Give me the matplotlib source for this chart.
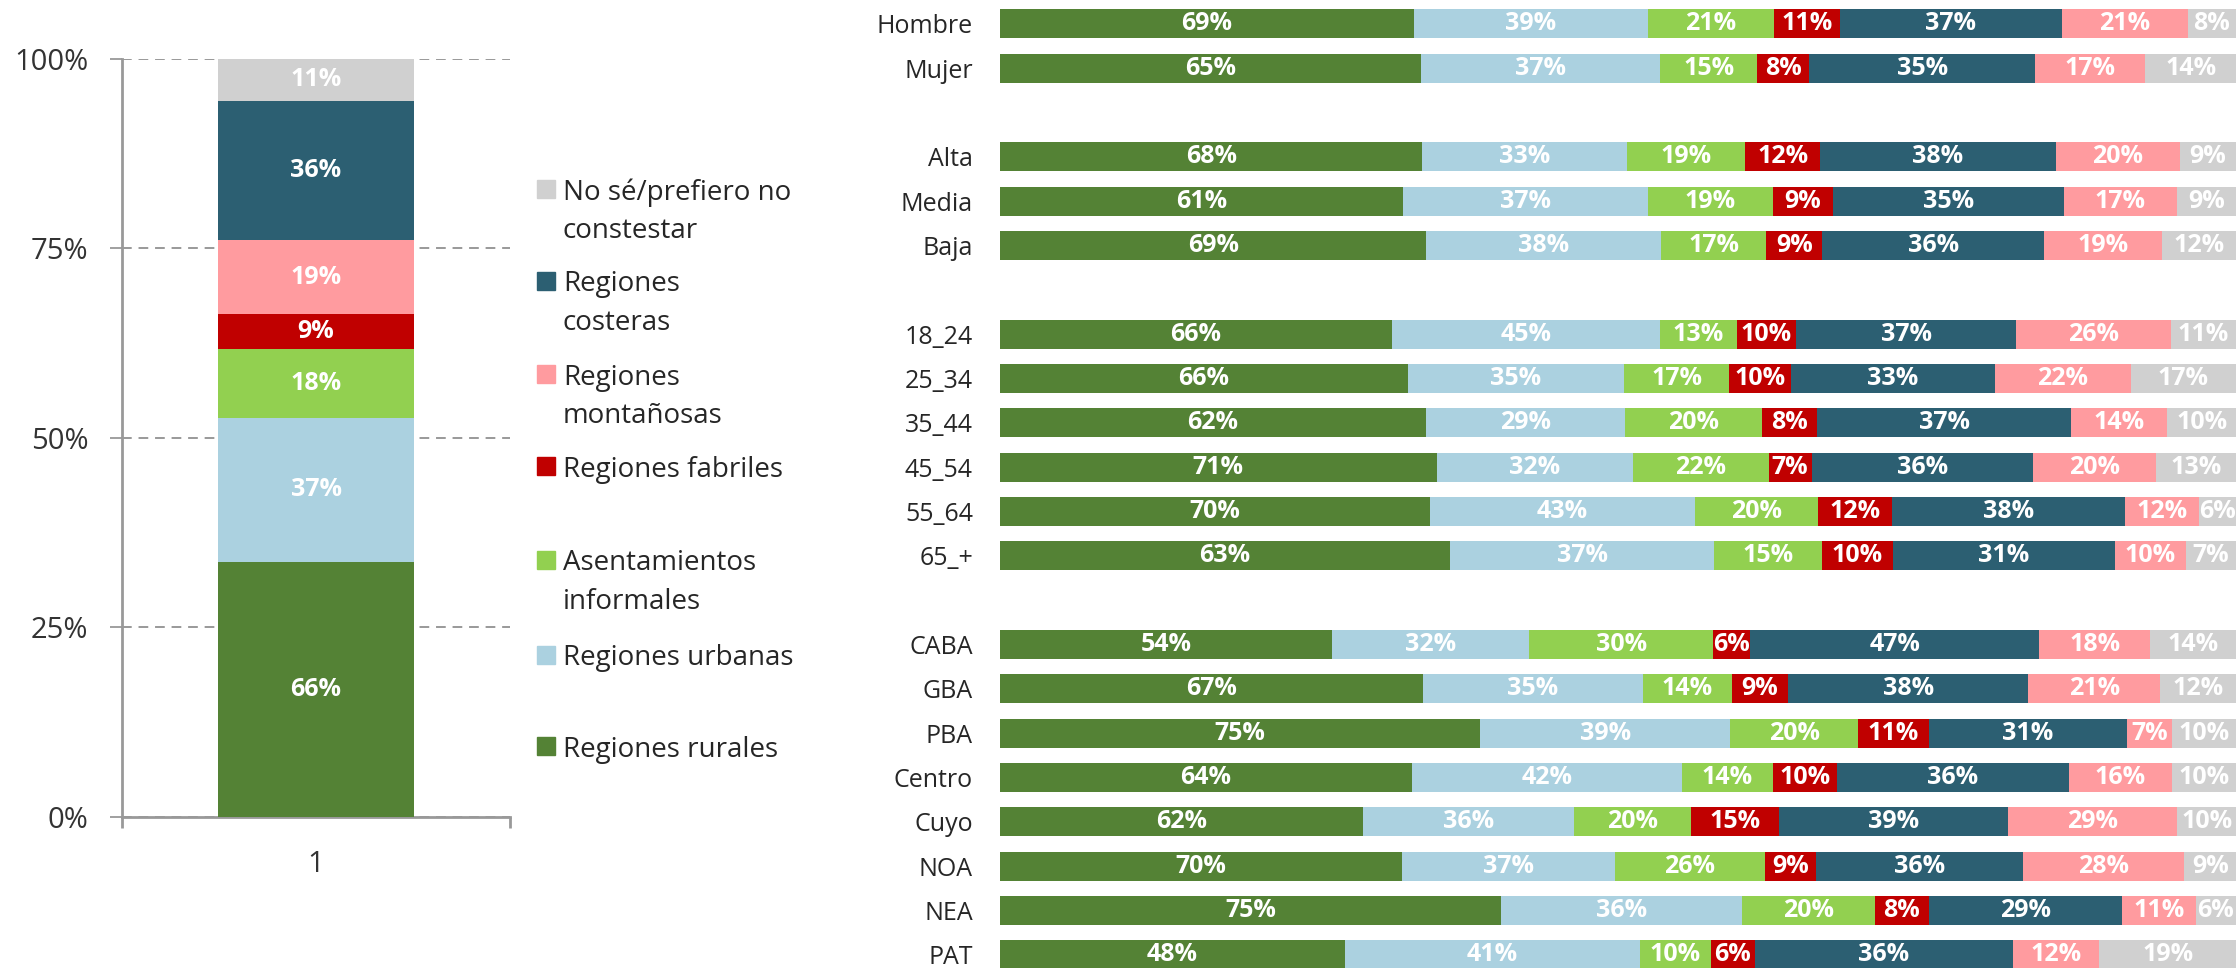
import numpy as np
import matplotlib.pyplot as plt
from matplotlib.patches import Rectangle

plt.rcParams['font.family'] = ['Open Sans', 'DejaVu Sans']

W, H = 2236, 968

# series order as stacked in the right panel
series = ['rurales', 'urbanas', 'informales', 'fabriles', 'costeras', 'montanosas', 'nose']
colors = {
    'rurales': '#548235',
    'urbanas': '#ABD1E0',
    'informales': '#92D050',
    'fabriles': '#C00000',
    'costeras': '#2C5F72',
    'montanosas': '#FF9B9F',
    'nose': '#D0D0D0',
}

# total (left bar), bottom to top
total_order = ['rurales', 'urbanas', 'informales', 'fabriles', 'montanosas', 'costeras', 'nose']
total_vals = [66, 37, 18, 9, 19, 36, 11]

legend_labels = [
    ('nose', 'No sé/prefiero no\nconstestar'),
    ('costeras', 'Regiones\ncosteras'),
    ('montanosas', 'Regiones\nmontañosas'),
    ('fabriles', 'Regiones fabriles'),
    ('informales', 'Asentamientos\ninformales'),
    ('urbanas', 'Regiones urbanas'),
    ('rurales', 'Regiones rurales'),
]

groups = [
    ['Hombre', 'Mujer'],
    ['Alta', 'Media', 'Baja'],
    ['18_24', '25_34', '35_44', '45_54', '55_64', '65_+'],
    ['CABA', 'GBA', 'PBA', 'Centro', 'Cuyo', 'NOA', 'NEA', 'PAT'],
]

rurales = [69, 65, 68, 61, 69, 66, 66, 62, 71, 70, 63, 54, 67, 75, 64, 62, 70, 75, 48]
urbanas = [39, 37, 33, 37, 38, 45, 35, 29, 32, 43, 37, 32, 35, 39, 42, 36, 37, 36, 41]
informales = [21, 15, 19, 19, 17, 13, 17, 20, 22, 20, 15, 30, 14, 20, 14, 20, 26, 20, 10]
fabriles = [11, 8, 12, 9, 9, 10, 10, 8, 7, 12, 10, 6, 9, 11, 10, 15, 9, 8, 6]
costeras = [37, 35, 38, 35, 36, 37, 33, 37, 36, 38, 31, 47, 38, 31, 36, 39, 36, 29, 36]
montanosas = [21, 17, 20, 17, 19, 26, 22, 14, 20, 12, 10, 18, 21, 7, 16, 29, 28, 11, 12]
nose = [8, 14, 9, 9, 12, 11, 17, 10, 13, 6, 7, 14, 12, 10, 10, 10, 9, 6, 19]

fig = plt.figure(figsize=(W / 100, H / 100), dpi=100)

# ---------------- left: total stacked column
axl = fig.add_axes([122 / W, 1 - 817 / H, 388 / W, 758.5 / H])
tv = np.array(total_vals, dtype=float)
tv = tv / tv.sum()
bottom = 0
for key, v, raw in zip(total_order, tv, total_vals):
    b = axl.bar(0, v, bottom=bottom, width=0.505, color=colors[key], zorder=3)
    axl.bar_label(b, labels=['%d%%' % raw], label_type='center', color='white',
                  fontsize=18, fontweight='bold')
    bottom += v

axl.set_xlim(-0.5, 0.5)
axl.set_ylim(0, 1)
axl.set_yticks([0, 0.25, 0.5, 0.75, 1.0])
axl.set_yticklabels(['0%', '25%', '50%', '75%', '100%'])
axl.set_xticks([0])
axl.set_xticklabels(['1'])
axl.set_xticks([-0.5, 0.5], minor=True)
axl.tick_params(axis='y', length=8.6, width=1.3, color='#999999', pad=15.5,
                labelsize=21, labelcolor='#333333')
axl.tick_params(axis='x', which='major', length=0, pad=24, labelsize=21, labelcolor='#333333')
axl.tick_params(axis='x', which='minor', length=8, width=2, color='#999999')
axl.yaxis.grid(True, color='#999999', linestyle=(0, (5, 3.5)), linewidth=1.4)
axl.set_axisbelow(True)
for s in ['top', 'right']:
    axl.spines[s].set_visible(False)
for s in ['left', 'bottom']:
    axl.spines[s].set_color('#999999')
    axl.spines[s].set_linewidth(2)

# legend, drawn by hand to keep Excel's uneven spacing
leg_y = [189, 281, 374, 466, 560, 655, 746]
for (key, lab), yc in zip(legend_labels, leg_y):
    fig.patches.append(Rectangle((537 / W, 1 - (yc + 9) / H), 18 / W, 18 / H,
                                 transform=fig.transFigure, color=colors[key]))
    for i, line in enumerate(lab.split('\n')):
        fig.text(563 / W, 1 - (yc + i * 38.5) / H, line, fontsize=20, color='#262626',
                 ha='left', va='center_baseline')

# ---------------- right: breakdown by segment, normalised to row total
axr = fig.add_axes([1000 / W, 0, 1236 / W, 1])
labels = []
pos = []
p = 0
for g in groups:
    for name in g:
        labels.append(name)
        pos.append(p)
        p += 1
    p += 1
pos = np.array(pos)

data = {'rurales': rurales, 'urbanas': urbanas, 'informales': informales,
        'fabriles': fabriles, 'costeras': costeras, 'montanosas': montanosas, 'nose': nose}
mat = np.array([data[k] for k in series], dtype=float)
tot = mat.sum(axis=0)
left = np.zeros(len(labels))
for k, row in zip(series, mat):
    frac = row / tot
    c = axr.barh(pos, frac, left=left, height=0.654, color=colors[k])
    axr.bar_label(c, labels=['%d%%' % v for v in row], label_type='center',
                  color='white', fontsize=18, fontweight='bold')
    left += frac

axr.set_xlim(0, 1)
axr.set_ylim(21.295, -0.541)
axr.set_yticks(pos)
axr.set_yticklabels(labels)
axr.tick_params(axis='y', length=0, pad=19.5, labelsize=18, labelcolor='#262626')
axr.set_xticks([])
for s in axr.spines.values():
    s.set_visible(False)
axr.patch.set_alpha(0)

fig.savefig('out.png', dpi=100)
